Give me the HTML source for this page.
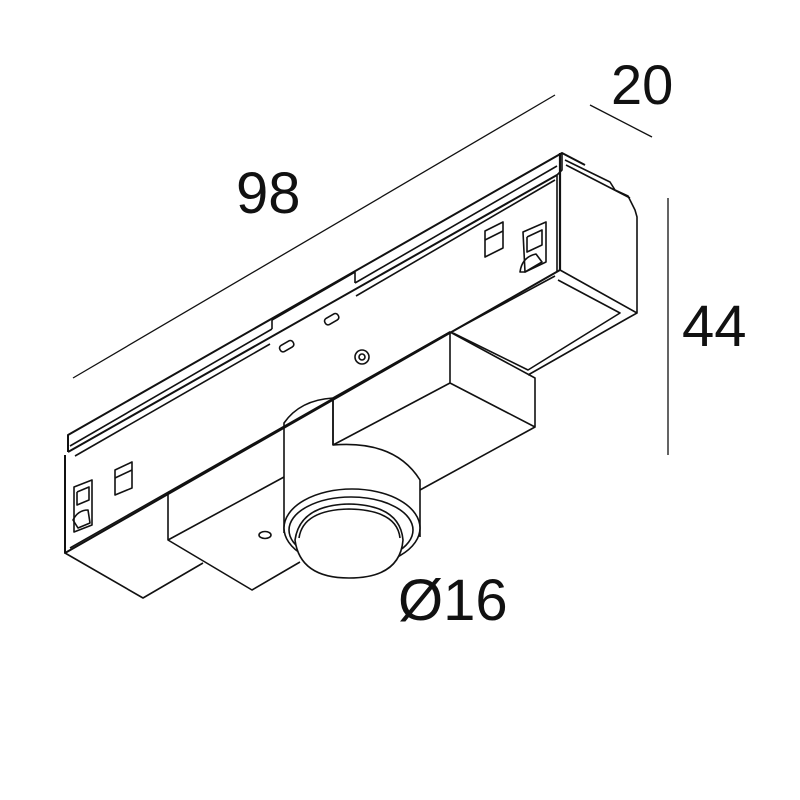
<!DOCTYPE html>
<html><head><meta charset="utf-8"><style>
html,body{margin:0;padding:0;background:#fff;}
svg{display:block}
text{font-family:"Liberation Sans",sans-serif;fill:#111}
</style></head><body>
<svg width="800" height="800" viewBox="0 0 800 800" xmlns="http://www.w3.org/2000/svg">
<g stroke="#111" stroke-width="1.6" fill="none" stroke-linejoin="round">
<!-- dimension lines -->
<line x1="73" y1="378" x2="555" y2="95" stroke-width="1.3"/>
<line x1="590" y1="105" x2="652" y2="137" stroke-width="1.3"/>
<line x1="668" y1="198" x2="668" y2="455" stroke-width="1.3"/>

<!-- main body top strip -->
<polyline points="68,452 68,435 562,153 585,165" stroke-width="2"/>
<line x1="70" y1="446" x2="272" y2="329"/>
<line x1="272" y1="329" x2="272" y2="320"/>
<line x1="272" y1="320" x2="355" y2="272"/>
<line x1="355" y1="272" x2="355" y2="283"/>
<line x1="355" y1="283" x2="557" y2="166"/>
<line x1="68" y1="452" x2="557" y2="175" stroke-width="2"/>
<line x1="75" y1="456" x2="270" y2="344"/>
<line x1="356" y1="296" x2="555" y2="180"/>
<!-- end face -->
<polyline points="562,153 562,170 557,175 557,272"/>
<line x1="560" y1="153" x2="560" y2="270" stroke-width="2.2"/>
<polyline points="565,160 610,182 615,190 628,196 635,210 637,217 637,313 560,270"/>
<line x1="566" y1="165" x2="630" y2="198"/>
<!-- front face bottom -->
<polyline points="65,455 65,553 560,270" stroke-width="2"/>
<line x1="70" y1="548" x2="450" y2="332"/>
<!-- bottom face right -->
<polyline points="637,313 628,318 528,375"/>
<polyline points="558,280 620,313 528,370 453,333"/>
<line x1="555" y1="276" x2="455" y2="330"/>
<!-- bottom face left -->
<polyline points="65,553 143,598 203,563"/>
<!-- lower-left box -->
<polyline points="168,493 168,540 252,590 300,562"/>
<line x1="168" y1="493" x2="284" y2="427"/>
<line x1="168" y1="540" x2="284" y2="477"/>
<ellipse cx="265" cy="535" rx="6" ry="3.5"/>
<!-- lower right box -->
<polyline points="333,398 333,445"/>
<line x1="333" y1="398" x2="450" y2="332"/>
<line x1="333" y1="445" x2="450" y2="383"/>
<polygon points="450,332 450,383 535,427 535,378"/>
<polyline points="535,427 420,490"/>
<!-- cylinder -->
<path d="M284,533 L284,423 Q300,400 333,398 L333,445 Q395,440 420,480 L420,537"/>
<ellipse cx="352" cy="528" rx="68" ry="39" fill="#fff"/>
<ellipse cx="351" cy="530" rx="62" ry="33"/>
<path d="M295,540 Q300,505 349,504 Q400,505 403,540 Q400,578 349,578 Q300,578 295,540Z" fill="#fff"/>
<path d="M299,538 Q303,510 349,509 Q397,510 400,538"/>
<!-- clips left -->
<polygon points="74,487 92,480 92,525 74,532"/>
<polyline points="77,492 89,487 89,500 77,505 77,492"/>
<path d="M73,520 Q78,510 88,510 L90,523 L78,528Z"/>
<polygon points="115,470 132,462 132,488 115,495"/>
<line x1="115" y1="478" x2="132" y2="470"/>
<!-- clips right -->
<polygon points="523,232 546,222 546,262 525,272"/>
<polyline points="527,237 542,230 542,245 527,252 527,237"/>
<path d="M520,272 Q522,257 536,254 L542,262 L525,272Z"/>
<polygon points="485,231 503,222 503,248 485,257"/>
<line x1="485" y1="240" x2="503" y2="231"/>
<!-- small slots -->
<rect x="279" y="343" width="15" height="7" rx="3" transform="rotate(-30 286 346)"/>
<rect x="324" y="316" width="15" height="7" rx="3" transform="rotate(-30 331 319)"/>
<circle cx="362" cy="357" r="7"/>
<circle cx="362" cy="357" r="3"/>
</g>
<text x="236" y="213" font-size="58">98</text>
<text x="611" y="104" font-size="56">20</text>
<text x="682" y="346" font-size="58">44</text>
<text x="398" y="620" font-size="58">Ø16</text>
</svg>
</body></html>
